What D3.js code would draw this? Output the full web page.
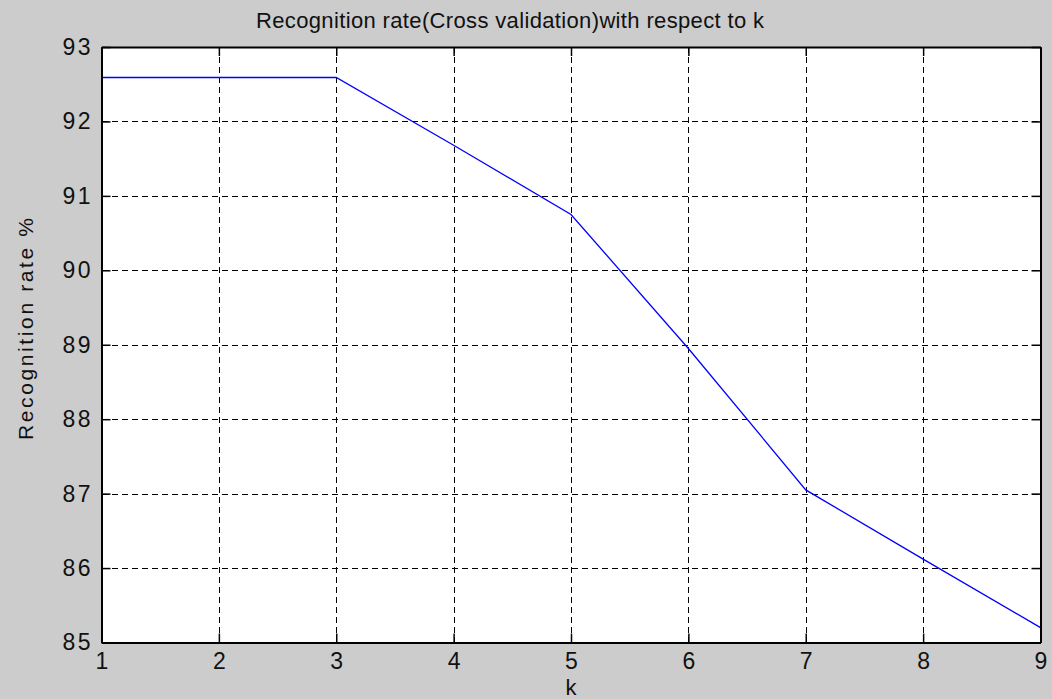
<!DOCTYPE html>
<html>
<head>
<meta charset="utf-8">
<script src="https://cdn.jsdelivr.net/npm/d3@7"></script>
<style>
  html, body { margin: 0; padding: 0; background: #cccccc; }
  svg { display: block; }
  text { font-family: "Liberation Sans", Arial, sans-serif; fill: #111; }
</style>
</head>
<body>
<svg id="chart" width="1052" height="699"></svg>
<script>
// Recognition rate (%) for each neighbourhood size k
const kValues = [1, 2, 3, 4, 5, 6, 7, 8, 9];
const recognitionRate = [92.59, 92.59, 92.59, 91.68, 90.75, 88.95, 87.05, 86.12, 85.2];
const xTicks = [1, 2, 3, 4, 5, 6, 7, 8, 9];
const yTicks = [85, 86, 87, 88, 89, 90, 91, 92, 93];
const titleText = "Recognition rate(Cross validation)with respect to k";
const xLabel = "k";
const yLabel = "Recognition rate %";

const W = 1052, H = 699;
const plot = { left: 101.5, right: 1040.5, top: 47, bottom: 642.5 };
const tickLen = 9;

const svg = d3.select("#chart");

svg.append("rect").attr("width", W).attr("height", H).attr("fill", "#cccccc");

const x = d3.scaleLinear().domain([1, 9]).range([plot.left, plot.right]);
const y = d3.scaleLinear().domain([85, 93]).range([plot.bottom, plot.top]);

// plot area
svg.append("rect")
  .attr("x", plot.left).attr("y", plot.top)
  .attr("width", plot.right - plot.left).attr("height", plot.bottom - plot.top)
  .attr("fill", "#ffffff");

// dashed grid
const grid = svg.append("g").attr("stroke", "#000").attr("stroke-width", 1.2)
  .attr("stroke-dasharray", "6,4").attr("shape-rendering", "crispEdges");
grid.selectAll("line.gx").data(xTicks.slice(1, -1)).join("line")
  .attr("x1", d => Math.round(x(d)) + 0.5).attr("x2", d => Math.round(x(d)) + 0.5)
  .attr("y1", plot.top).attr("y2", plot.bottom);
grid.selectAll("line.gy").data(yTicks.slice(1, -1)).join("line")
  .attr("y1", d => Math.round(y(d)) + 0.5).attr("y2", d => Math.round(y(d)) + 0.5)
  .attr("x1", plot.left).attr("x2", plot.right);

// data line
const line = d3.line().x((d, i) => x(kValues[i])).y(d => y(d));
svg.append("path")
  .datum(recognitionRate)
  .attr("d", line)
  .attr("fill", "none")
  .attr("stroke", "#0000ff")
  .attr("stroke-width", 1.3);

// axes: inward ticks on all four sides
const axisBottom = d3.axisBottom(x).tickValues(xTicks).tickSizeInner(-tickLen).tickSizeOuter(0).tickPadding(14);
const axisTop = d3.axisTop(x).tickValues(xTicks).tickSizeInner(-tickLen).tickSizeOuter(0).tickFormat("");
const axisLeft = d3.axisLeft(y).tickValues(yTicks).tickSizeInner(-tickLen).tickSizeOuter(0).tickPadding(14);
const axisRight = d3.axisRight(y).tickValues(yTicks).tickSizeInner(-tickLen).tickSizeOuter(0).tickFormat("");

function styleAxis(g) {
  g.select(".domain").attr("stroke", "#000").attr("stroke-width", 2);
  g.selectAll(".tick line").attr("stroke", "#000").attr("stroke-width", 1.5);
  g.selectAll(".tick text").attr("font-family", "Liberation Sans, Arial, sans-serif")
    .attr("font-size", 23).attr("fill", "#111");
}

svg.append("g").attr("transform", `translate(0,${plot.bottom})`).call(axisBottom).call(styleAxis)
  .selectAll(".tick text").attr("dy", "0.71em").attr("y", 10);
svg.append("g").attr("transform", `translate(0,${plot.top})`).call(axisTop).call(styleAxis);
svg.append("g").attr("transform", `translate(${plot.left},0)`).call(axisLeft).call(styleAxis)
  .selectAll(".tick text").attr("x", -11).attr("textLength", 28).attr("lengthAdjust", "spacing");
svg.append("g").attr("transform", `translate(${plot.right},0)`).call(axisRight).call(styleAxis);

// title and axis labels
svg.append("text")
  .attr("x", 256).attr("y", 28)
  .attr("font-size", 22)
  .attr("textLength", 508).attr("lengthAdjust", "spacing")
  .text(titleText);

svg.append("text")
  .attr("x", 571).attr("y", 695)
  .attr("text-anchor", "middle")
  .attr("font-size", 22)
  .text(xLabel);

svg.append("text")
  .attr("transform", "translate(33,440) rotate(-90)")
  .attr("font-size", 21)
  .attr("textLength", 222).attr("lengthAdjust", "spacing")
  .text(yLabel);
</script>
</body>
</html>
